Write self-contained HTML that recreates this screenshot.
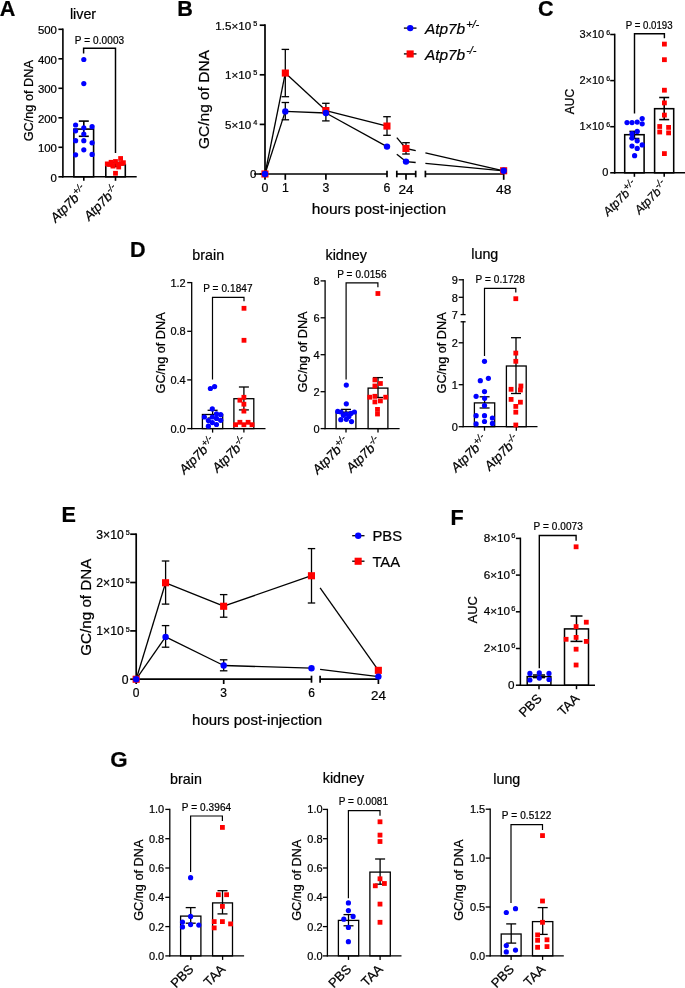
<!DOCTYPE html>
<html><head><meta charset="utf-8"><title>Figure</title>
<style>
html,body{margin:0;padding:0;background:#fff;}
body{width:685px;height:988px;overflow:hidden;font-family:"Liberation Sans",sans-serif;}
svg{display:block;font-family:"Liberation Sans",sans-serif;opacity:0.999;will-change:transform;}
text{fill:#000;stroke:#000;stroke-width:0.22px;}
</style></head>
<body>
<svg width="685" height="988" viewBox="0 0 685 988">
<rect width="685" height="988" fill="#fff"/>
<text x="-0.2" y="15.8" font-size="21.6" text-anchor="start" font-weight="bold" font-style="normal" >A</text>
<text x="177.2" y="15.9" font-size="21.6" text-anchor="start" font-weight="bold" font-style="normal" >B</text>
<text x="537.9" y="15.8" font-size="21.6" text-anchor="start" font-weight="bold" font-style="normal" >C</text>
<text x="129.9" y="257.0" font-size="21.6" text-anchor="start" font-weight="bold" font-style="normal" >D</text>
<text x="61.6" y="522.0" font-size="21.6" text-anchor="start" font-weight="bold" font-style="normal" >E</text>
<text x="450.4" y="524.8" font-size="21.6" text-anchor="start" font-weight="bold" font-style="normal" >F</text>
<text x="110.3" y="766.8" font-size="22.3" text-anchor="start" font-weight="bold" font-style="normal" >G</text>
<rect x="73.9" y="129.1" width="19.7" height="47.7" fill="#fff" stroke="#000" stroke-width="1.6"/>
<rect x="105.8" y="164.6" width="19.5" height="12.2" fill="#fff" stroke="#000" stroke-width="1.6"/>
<line x1="83.8" y1="121.1" x2="83.8" y2="136.3" stroke="#000" stroke-width="1.6" stroke-linecap="butt"/>
<line x1="78.8" y1="121.1" x2="88.8" y2="121.1" stroke="#000" stroke-width="1.6" stroke-linecap="butt"/>
<line x1="78.8" y1="136.3" x2="88.8" y2="136.3" stroke="#000" stroke-width="1.6" stroke-linecap="butt"/>
<line x1="115.5" y1="162.5" x2="115.5" y2="166.5" stroke="#000" stroke-width="1.6" stroke-linecap="butt"/>
<line x1="110.5" y1="162.5" x2="120.5" y2="162.5" stroke="#000" stroke-width="1.6" stroke-linecap="butt"/>
<line x1="110.5" y1="166.5" x2="120.5" y2="166.5" stroke="#000" stroke-width="1.6" stroke-linecap="butt"/>
<line x1="62.9" y1="28.5" x2="62.9" y2="177.6" stroke="#000" stroke-width="1.6" stroke-linecap="butt"/>
<line x1="62.1" y1="176.8" x2="136.7" y2="176.8" stroke="#000" stroke-width="1.6" stroke-linecap="butt"/>
<line x1="58.4" y1="29.3" x2="62.9" y2="29.3" stroke="#000" stroke-width="1.6" stroke-linecap="butt"/>
<text x="56.9" y="34.3" font-size="11.4" text-anchor="end" font-weight="normal" font-style="normal" >500</text>
<line x1="58.4" y1="58.8" x2="62.9" y2="58.8" stroke="#000" stroke-width="1.6" stroke-linecap="butt"/>
<text x="56.9" y="63.8" font-size="11.4" text-anchor="end" font-weight="normal" font-style="normal" >400</text>
<line x1="58.4" y1="88.3" x2="62.9" y2="88.3" stroke="#000" stroke-width="1.6" stroke-linecap="butt"/>
<text x="56.9" y="93.3" font-size="11.4" text-anchor="end" font-weight="normal" font-style="normal" >300</text>
<line x1="58.4" y1="117.8" x2="62.9" y2="117.8" stroke="#000" stroke-width="1.6" stroke-linecap="butt"/>
<text x="56.9" y="122.8" font-size="11.4" text-anchor="end" font-weight="normal" font-style="normal" >200</text>
<line x1="58.4" y1="147.3" x2="62.9" y2="147.3" stroke="#000" stroke-width="1.6" stroke-linecap="butt"/>
<text x="56.9" y="152.3" font-size="11.4" text-anchor="end" font-weight="normal" font-style="normal" >100</text>
<line x1="58.4" y1="176.8" x2="62.9" y2="176.8" stroke="#000" stroke-width="1.6" stroke-linecap="butt"/>
<text x="56.9" y="181.8" font-size="11.4" text-anchor="end" font-weight="normal" font-style="normal" >0</text>
<line x1="83.8" y1="176.8" x2="83.8" y2="180.8" stroke="#000" stroke-width="1.6" stroke-linecap="butt"/>
<line x1="115.5" y1="176.8" x2="115.5" y2="180.8" stroke="#000" stroke-width="1.6" stroke-linecap="butt"/>
<polyline points="83.6,53.6 83.6,48.2 115.5,48.2 115.5,152.9" fill="none" stroke="#000" stroke-width="1.47"/>
<text x="99.5" y="44.1" font-size="10.0" text-anchor="middle" font-weight="normal" font-style="normal" letter-spacing="0.1">P = 0.0003</text>
<text transform="translate(32.5,100.7) rotate(-90)" font-size="12.7" text-anchor="middle" font-style="normal">GC/ng of DNA</text>
<circle cx="83.8" cy="59.5" r="2.6" fill="#0000ff"/>
<circle cx="83.8" cy="83.6" r="2.6" fill="#0000ff"/>
<circle cx="75.6" cy="125.0" r="2.6" fill="#0000ff"/>
<circle cx="92.1" cy="126.7" r="2.6" fill="#0000ff"/>
<circle cx="83.8" cy="127.8" r="2.6" fill="#0000ff"/>
<circle cx="75.6" cy="130.8" r="2.6" fill="#0000ff"/>
<circle cx="83.8" cy="134.1" r="2.6" fill="#0000ff"/>
<circle cx="75.6" cy="140.7" r="2.6" fill="#0000ff"/>
<circle cx="83.8" cy="140.7" r="2.6" fill="#0000ff"/>
<circle cx="92.1" cy="142.8" r="2.6" fill="#0000ff"/>
<circle cx="83.8" cy="149.8" r="2.6" fill="#0000ff"/>
<circle cx="75.6" cy="154.8" r="2.6" fill="#0000ff"/>
<circle cx="92.1" cy="154.4" r="2.6" fill="#0000ff"/>
<rect x="104.9" y="161.5" width="4.8" height="4.8" fill="#ff0000"/>
<rect x="108.7" y="159.9" width="4.8" height="4.8" fill="#ff0000"/>
<rect x="110.6" y="163.7" width="4.8" height="4.8" fill="#ff0000"/>
<rect x="113.1" y="170.9" width="4.8" height="4.8" fill="#ff0000"/>
<rect x="115.3" y="161.8" width="4.8" height="4.8" fill="#ff0000"/>
<rect x="118.2" y="156.1" width="4.8" height="4.8" fill="#ff0000"/>
<rect x="121.0" y="160.3" width="4.8" height="4.8" fill="#ff0000"/>
<rect x="116.3" y="164.6" width="4.8" height="4.8" fill="#ff0000"/>
<rect x="113.1" y="159.1" width="4.8" height="4.8" fill="#ff0000"/>
<rect x="107.1" y="162.1" width="4.8" height="4.8" fill="#ff0000"/>
<rect x="119.1" y="161.1" width="4.8" height="4.8" fill="#ff0000"/>
<text transform="translate(87.7,190.9) rotate(-45)" font-size="13" text-anchor="end" font-style="italic">Atp7b<tspan font-size="9.5" dy="-5.2">+/-</tspan></text>
<text transform="translate(119.5,190.9) rotate(-45)" font-size="13" text-anchor="end" font-style="italic">Atp7b<tspan font-size="9.5" dy="-5.2">-/-</tspan></text>
<text x="83.0" y="18.6" font-size="14.3" text-anchor="middle" font-weight="normal" font-style="normal" >liver</text>
<rect x="624.7" y="134.7" width="19.4" height="38.1" fill="#fff" stroke="#000" stroke-width="1.55"/>
<rect x="654.6" y="108.7" width="19.1" height="64.1" fill="#fff" stroke="#000" stroke-width="1.55"/>
<line x1="634.4" y1="131.4" x2="634.4" y2="138.5" stroke="#000" stroke-width="1.55" stroke-linecap="butt"/>
<line x1="629.4" y1="131.4" x2="639.4" y2="131.4" stroke="#000" stroke-width="1.55" stroke-linecap="butt"/>
<line x1="629.4" y1="138.5" x2="639.4" y2="138.5" stroke="#000" stroke-width="1.55" stroke-linecap="butt"/>
<line x1="664.2" y1="97.5" x2="664.2" y2="119.6" stroke="#000" stroke-width="1.55" stroke-linecap="butt"/>
<line x1="659.2" y1="97.5" x2="669.2" y2="97.5" stroke="#000" stroke-width="1.55" stroke-linecap="butt"/>
<line x1="659.2" y1="119.6" x2="669.2" y2="119.6" stroke="#000" stroke-width="1.55" stroke-linecap="butt"/>
<line x1="614.7" y1="33.7" x2="614.7" y2="173.6" stroke="#000" stroke-width="1.55" stroke-linecap="butt"/>
<line x1="613.9" y1="172.8" x2="685.0" y2="172.8" stroke="#000" stroke-width="1.55" stroke-linecap="butt"/>
<line x1="610.2" y1="34.5" x2="614.7" y2="34.5" stroke="#000" stroke-width="1.55" stroke-linecap="butt"/>
<text x="610.2" y="38.1" font-size="11" text-anchor="end" font-weight="normal" font-style="normal" >3×10<tspan font-size="6.9" dx="2.2" dy="-3.2">6</tspan></text>
<line x1="610.2" y1="80.6" x2="614.7" y2="80.6" stroke="#000" stroke-width="1.55" stroke-linecap="butt"/>
<text x="610.2" y="84.2" font-size="11" text-anchor="end" font-weight="normal" font-style="normal" >2×10<tspan font-size="6.9" dx="2.2" dy="-3.2">6</tspan></text>
<line x1="610.2" y1="126.7" x2="614.7" y2="126.7" stroke="#000" stroke-width="1.55" stroke-linecap="butt"/>
<text x="610.2" y="130.3" font-size="11" text-anchor="end" font-weight="normal" font-style="normal" >1×10<tspan font-size="6.9" dx="2.2" dy="-3.2">6</tspan></text>
<line x1="610.2" y1="172.8" x2="614.7" y2="172.8" stroke="#000" stroke-width="1.55" stroke-linecap="butt"/>
<text x="608.4" y="176.4" font-size="11" text-anchor="end" font-weight="normal" font-style="normal" >0</text>
<line x1="634.4" y1="172.8" x2="634.4" y2="176.8" stroke="#000" stroke-width="1.55" stroke-linecap="butt"/>
<line x1="664.2" y1="172.8" x2="664.2" y2="176.8" stroke="#000" stroke-width="1.55" stroke-linecap="butt"/>
<polyline points="634.5,113.6 634.5,33.8 664.4,33.8 664.4,38.3" fill="none" stroke="#000" stroke-width="1.43"/>
<text x="649.2" y="29.3" font-size="10.2" text-anchor="middle" font-weight="normal" font-style="normal" textLength="46.8" lengthAdjust="spacingAndGlyphs">P = 0.0193</text>
<text transform="translate(573.5,101.5) rotate(-90)" font-size="12" text-anchor="middle" font-style="normal">AUC</text>
<circle cx="627.0" cy="122.6" r="2.6" fill="#0000ff"/>
<circle cx="632.0" cy="122.6" r="2.6" fill="#0000ff"/>
<circle cx="637.2" cy="122.1" r="2.6" fill="#0000ff"/>
<circle cx="642.2" cy="118.5" r="2.6" fill="#0000ff"/>
<circle cx="642.2" cy="123.8" r="2.6" fill="#0000ff"/>
<circle cx="637.2" cy="131.4" r="2.6" fill="#0000ff"/>
<circle cx="632.0" cy="133.7" r="2.6" fill="#0000ff"/>
<circle cx="632.0" cy="138.1" r="2.6" fill="#0000ff"/>
<circle cx="637.2" cy="140.8" r="2.6" fill="#0000ff"/>
<circle cx="642.2" cy="144.9" r="2.6" fill="#0000ff"/>
<circle cx="632.0" cy="146.1" r="2.6" fill="#0000ff"/>
<circle cx="637.2" cy="148.4" r="2.6" fill="#0000ff"/>
<circle cx="634.6" cy="155.7" r="2.6" fill="#0000ff"/>
<rect x="662.0" y="41.7" width="4.8" height="4.8" fill="#ff0000"/>
<rect x="662.0" y="57.3" width="4.8" height="4.8" fill="#ff0000"/>
<rect x="662.0" y="87.8" width="4.8" height="4.8" fill="#ff0000"/>
<rect x="662.0" y="100.5" width="4.8" height="4.8" fill="#ff0000"/>
<rect x="662.0" y="112.7" width="4.8" height="4.8" fill="#ff0000"/>
<rect x="657.3" y="124.1" width="4.8" height="4.8" fill="#ff0000"/>
<rect x="666.2" y="125.0" width="4.8" height="4.8" fill="#ff0000"/>
<rect x="657.3" y="129.6" width="4.8" height="4.8" fill="#ff0000"/>
<rect x="666.2" y="130.5" width="4.8" height="4.8" fill="#ff0000"/>
<rect x="662.0" y="151.2" width="4.8" height="4.8" fill="#ff0000"/>
<text transform="translate(638.3,186.3) rotate(-45)" font-size="12" text-anchor="end" font-style="italic">Atp7b<tspan font-size="9.5" dy="-5.2">+/-</tspan></text>
<text transform="translate(668.1,186.3) rotate(-45)" font-size="12" text-anchor="end" font-style="italic">Atp7b<tspan font-size="9.5" dy="-5.2">-/-</tspan></text>
<rect x="202.4" y="414.5" width="20.3" height="14.1" fill="#fff" stroke="#000" stroke-width="1.3"/>
<rect x="233.9" y="398.7" width="19.9" height="29.9" fill="#fff" stroke="#000" stroke-width="1.3"/>
<line x1="212.6" y1="410.3" x2="212.6" y2="418.0" stroke="#000" stroke-width="1.3" stroke-linecap="butt"/>
<line x1="207.6" y1="410.3" x2="217.6" y2="410.3" stroke="#000" stroke-width="1.3" stroke-linecap="butt"/>
<line x1="207.6" y1="418.0" x2="217.6" y2="418.0" stroke="#000" stroke-width="1.3" stroke-linecap="butt"/>
<line x1="243.9" y1="387.0" x2="243.9" y2="409.9" stroke="#000" stroke-width="1.3" stroke-linecap="butt"/>
<line x1="238.9" y1="387.0" x2="248.9" y2="387.0" stroke="#000" stroke-width="1.3" stroke-linecap="butt"/>
<line x1="238.9" y1="409.9" x2="248.9" y2="409.9" stroke="#000" stroke-width="1.3" stroke-linecap="butt"/>
<line x1="191.7" y1="282.0" x2="191.7" y2="429.2" stroke="#000" stroke-width="1.3" stroke-linecap="butt"/>
<line x1="191.0" y1="428.6" x2="265.5" y2="428.6" stroke="#000" stroke-width="1.3" stroke-linecap="butt"/>
<line x1="187.2" y1="282.6" x2="191.7" y2="282.6" stroke="#000" stroke-width="1.3" stroke-linecap="butt"/>
<text x="185.7" y="286.6" font-size="11" text-anchor="end" font-weight="normal" font-style="normal" >1.2</text>
<line x1="187.2" y1="331.3" x2="191.7" y2="331.3" stroke="#000" stroke-width="1.3" stroke-linecap="butt"/>
<text x="185.7" y="335.3" font-size="11" text-anchor="end" font-weight="normal" font-style="normal" >0.8</text>
<line x1="187.2" y1="379.9" x2="191.7" y2="379.9" stroke="#000" stroke-width="1.3" stroke-linecap="butt"/>
<text x="185.7" y="383.9" font-size="11" text-anchor="end" font-weight="normal" font-style="normal" >0.4</text>
<line x1="187.2" y1="428.6" x2="191.7" y2="428.6" stroke="#000" stroke-width="1.3" stroke-linecap="butt"/>
<text x="185.7" y="432.6" font-size="11" text-anchor="end" font-weight="normal" font-style="normal" >0.0</text>
<line x1="212.6" y1="428.6" x2="212.6" y2="432.6" stroke="#000" stroke-width="1.3" stroke-linecap="butt"/>
<line x1="243.9" y1="428.6" x2="243.9" y2="432.6" stroke="#000" stroke-width="1.3" stroke-linecap="butt"/>
<polyline points="212.5,379.5 212.5,297.3 244.0,297.3 244.0,301.2" fill="none" stroke="#000" stroke-width="1.20"/>
<text x="227.9" y="292.3" font-size="10.0" text-anchor="middle" font-weight="normal" font-style="normal" letter-spacing="0.1">P = 0.1847</text>
<text transform="translate(165.0,352.9) rotate(-90)" font-size="12.7" text-anchor="middle" font-style="normal">GC/ng of DNA</text>
<circle cx="210.4" cy="388.5" r="2.6" fill="#0000ff"/>
<circle cx="214.6" cy="386.6" r="2.6" fill="#0000ff"/>
<circle cx="212.3" cy="408.9" r="2.6" fill="#0000ff"/>
<circle cx="216.5" cy="413.8" r="2.6" fill="#0000ff"/>
<circle cx="220.7" cy="414.7" r="2.6" fill="#0000ff"/>
<circle cx="204.4" cy="417.0" r="2.6" fill="#0000ff"/>
<circle cx="212.3" cy="417.0" r="2.6" fill="#0000ff"/>
<circle cx="216.5" cy="418.4" r="2.6" fill="#0000ff"/>
<circle cx="208.4" cy="420.6" r="2.6" fill="#0000ff"/>
<circle cx="220.7" cy="420.3" r="2.6" fill="#0000ff"/>
<circle cx="212.3" cy="422.6" r="2.6" fill="#0000ff"/>
<circle cx="216.5" cy="424.5" r="2.6" fill="#0000ff"/>
<circle cx="208.4" cy="426.2" r="2.6" fill="#0000ff"/>
<rect x="241.6" y="305.9" width="4.8" height="4.8" fill="#ff0000"/>
<rect x="241.6" y="337.9" width="4.8" height="4.8" fill="#ff0000"/>
<rect x="241.5" y="394.9" width="4.8" height="4.8" fill="#ff0000"/>
<rect x="237.5" y="397.8" width="4.8" height="4.8" fill="#ff0000"/>
<rect x="241.5" y="401.8" width="4.8" height="4.8" fill="#ff0000"/>
<rect x="241.5" y="408.7" width="4.8" height="4.8" fill="#ff0000"/>
<rect x="233.2" y="422.3" width="4.8" height="4.8" fill="#ff0000"/>
<rect x="237.5" y="419.9" width="4.8" height="4.8" fill="#ff0000"/>
<rect x="241.5" y="422.3" width="4.8" height="4.8" fill="#ff0000"/>
<rect x="245.7" y="419.9" width="4.8" height="4.8" fill="#ff0000"/>
<rect x="249.6" y="422.3" width="4.8" height="4.8" fill="#ff0000"/>
<text transform="translate(216.5,442.7) rotate(-45)" font-size="13" text-anchor="end" font-style="italic">Atp7b<tspan font-size="9.5" dy="-5.2">+/-</tspan></text>
<text transform="translate(247.8,442.7) rotate(-45)" font-size="13" text-anchor="end" font-style="italic">Atp7b<tspan font-size="9.5" dy="-5.2">-/-</tspan></text>
<text x="208.2" y="260.4" font-size="14.3" text-anchor="middle" font-weight="normal" font-style="normal" >brain</text>
<rect x="336.1" y="412.2" width="19.8" height="16.4" fill="#fff" stroke="#000" stroke-width="1.3"/>
<rect x="368.1" y="388.1" width="19.8" height="40.5" fill="#fff" stroke="#000" stroke-width="1.3"/>
<line x1="346.0" y1="409.4" x2="346.0" y2="415.0" stroke="#000" stroke-width="1.3" stroke-linecap="butt"/>
<line x1="341.0" y1="409.4" x2="351.0" y2="409.4" stroke="#000" stroke-width="1.3" stroke-linecap="butt"/>
<line x1="341.0" y1="415.0" x2="351.0" y2="415.0" stroke="#000" stroke-width="1.3" stroke-linecap="butt"/>
<line x1="378.0" y1="377.6" x2="378.0" y2="397.5" stroke="#000" stroke-width="1.3" stroke-linecap="butt"/>
<line x1="373.0" y1="377.6" x2="383.0" y2="377.6" stroke="#000" stroke-width="1.3" stroke-linecap="butt"/>
<line x1="373.0" y1="397.5" x2="383.0" y2="397.5" stroke="#000" stroke-width="1.3" stroke-linecap="butt"/>
<line x1="325.1" y1="280.2" x2="325.1" y2="429.2" stroke="#000" stroke-width="1.3" stroke-linecap="butt"/>
<line x1="324.5" y1="428.6" x2="399.6" y2="428.6" stroke="#000" stroke-width="1.3" stroke-linecap="butt"/>
<line x1="320.6" y1="280.9" x2="325.1" y2="280.9" stroke="#000" stroke-width="1.3" stroke-linecap="butt"/>
<text x="319.5" y="285.3" font-size="11" text-anchor="end" font-weight="normal" font-style="normal" >8</text>
<line x1="320.6" y1="317.8" x2="325.1" y2="317.8" stroke="#000" stroke-width="1.3" stroke-linecap="butt"/>
<text x="319.5" y="322.2" font-size="11" text-anchor="end" font-weight="normal" font-style="normal" >6</text>
<line x1="320.6" y1="354.7" x2="325.1" y2="354.7" stroke="#000" stroke-width="1.3" stroke-linecap="butt"/>
<text x="319.5" y="359.1" font-size="11" text-anchor="end" font-weight="normal" font-style="normal" >4</text>
<line x1="320.6" y1="391.7" x2="325.1" y2="391.7" stroke="#000" stroke-width="1.3" stroke-linecap="butt"/>
<text x="319.5" y="396.1" font-size="11" text-anchor="end" font-weight="normal" font-style="normal" >2</text>
<line x1="320.6" y1="428.6" x2="325.1" y2="428.6" stroke="#000" stroke-width="1.3" stroke-linecap="butt"/>
<text x="319.5" y="433.0" font-size="11" text-anchor="end" font-weight="normal" font-style="normal" >0</text>
<line x1="346.0" y1="428.6" x2="346.0" y2="432.6" stroke="#000" stroke-width="1.3" stroke-linecap="butt"/>
<line x1="378.0" y1="428.6" x2="378.0" y2="432.6" stroke="#000" stroke-width="1.3" stroke-linecap="butt"/>
<polyline points="346.1,379.5 346.1,282.8 377.9,282.8 377.9,287.2" fill="none" stroke="#000" stroke-width="1.20"/>
<text x="361.9" y="277.8" font-size="10.0" text-anchor="middle" font-weight="normal" font-style="normal" letter-spacing="0.1">P = 0.0156</text>
<text transform="translate(307.4,352.0) rotate(-90)" font-size="12.7" text-anchor="middle" font-style="normal">GC/ng of DNA</text>
<circle cx="346.3" cy="385.1" r="2.6" fill="#0000ff"/>
<circle cx="346.3" cy="403.8" r="2.6" fill="#0000ff"/>
<circle cx="337.7" cy="411.4" r="2.6" fill="#0000ff"/>
<circle cx="341.0" cy="412.0" r="2.6" fill="#0000ff"/>
<circle cx="354.4" cy="412.0" r="2.6" fill="#0000ff"/>
<circle cx="350.9" cy="413.4" r="2.6" fill="#0000ff"/>
<circle cx="346.3" cy="414.0" r="2.6" fill="#0000ff"/>
<circle cx="343.4" cy="415.3" r="2.6" fill="#0000ff"/>
<circle cx="348.9" cy="416.6" r="2.6" fill="#0000ff"/>
<circle cx="340.8" cy="419.7" r="2.6" fill="#0000ff"/>
<circle cx="346.3" cy="419.3" r="2.6" fill="#0000ff"/>
<circle cx="351.5" cy="421.6" r="2.6" fill="#0000ff"/>
<rect x="375.5" y="291.1" width="4.8" height="4.8" fill="#ff0000"/>
<rect x="372.5" y="377.5" width="4.8" height="4.8" fill="#ff0000"/>
<rect x="378.0" y="381.1" width="4.8" height="4.8" fill="#ff0000"/>
<rect x="372.5" y="383.6" width="4.8" height="4.8" fill="#ff0000"/>
<rect x="367.3" y="394.8" width="4.8" height="4.8" fill="#ff0000"/>
<rect x="372.5" y="393.9" width="4.8" height="4.8" fill="#ff0000"/>
<rect x="383.3" y="394.8" width="4.8" height="4.8" fill="#ff0000"/>
<rect x="378.0" y="398.5" width="4.8" height="4.8" fill="#ff0000"/>
<rect x="372.5" y="399.5" width="4.8" height="4.8" fill="#ff0000"/>
<rect x="375.1" y="407.0" width="4.8" height="4.8" fill="#ff0000"/>
<rect x="375.1" y="411.6" width="4.8" height="4.8" fill="#ff0000"/>
<text transform="translate(349.9,442.7) rotate(-45)" font-size="13" text-anchor="end" font-style="italic">Atp7b<tspan font-size="9.5" dy="-5.2">+/-</tspan></text>
<text transform="translate(381.9,442.7) rotate(-45)" font-size="13" text-anchor="end" font-style="italic">Atp7b<tspan font-size="9.5" dy="-5.2">-/-</tspan></text>
<text x="346.2" y="259.9" font-size="14.3" text-anchor="middle" font-weight="normal" font-style="normal" >kidney</text>
<rect x="474.4" y="402.9" width="20.3" height="23.8" fill="#fff" stroke="#000" stroke-width="1.3"/>
<rect x="506.4" y="366.0" width="19.8" height="60.7" fill="#fff" stroke="#000" stroke-width="1.3"/>
<line x1="484.6" y1="396.8" x2="484.6" y2="408.0" stroke="#000" stroke-width="1.3" stroke-linecap="butt"/>
<line x1="479.6" y1="396.8" x2="489.6" y2="396.8" stroke="#000" stroke-width="1.3" stroke-linecap="butt"/>
<line x1="479.6" y1="408.0" x2="489.6" y2="408.0" stroke="#000" stroke-width="1.3" stroke-linecap="butt"/>
<line x1="516.0" y1="337.7" x2="516.0" y2="393.5" stroke="#000" stroke-width="1.3" stroke-linecap="butt"/>
<line x1="511.0" y1="337.7" x2="521.0" y2="337.7" stroke="#000" stroke-width="1.3" stroke-linecap="butt"/>
<line x1="511.0" y1="393.5" x2="521.0" y2="393.5" stroke="#000" stroke-width="1.3" stroke-linecap="butt"/>
<line x1="463.2" y1="321.2" x2="463.2" y2="427.3" stroke="#000" stroke-width="1.3" stroke-linecap="butt"/>
<line x1="462.6" y1="426.7" x2="537.5" y2="426.7" stroke="#000" stroke-width="1.3" stroke-linecap="butt"/>
<line x1="458.7" y1="342.8" x2="463.2" y2="342.8" stroke="#000" stroke-width="1.3" stroke-linecap="butt"/>
<text x="457.9" y="347.2" font-size="11" text-anchor="end" font-weight="normal" font-style="normal" >2</text>
<line x1="458.7" y1="384.7" x2="463.2" y2="384.7" stroke="#000" stroke-width="1.3" stroke-linecap="butt"/>
<text x="457.9" y="389.1" font-size="11" text-anchor="end" font-weight="normal" font-style="normal" >1</text>
<line x1="458.7" y1="426.7" x2="463.2" y2="426.7" stroke="#000" stroke-width="1.3" stroke-linecap="butt"/>
<text x="457.9" y="431.1" font-size="11" text-anchor="end" font-weight="normal" font-style="normal" >0</text>
<line x1="484.5" y1="426.7" x2="484.5" y2="430.7" stroke="#000" stroke-width="1.3" stroke-linecap="butt"/>
<line x1="516.3" y1="426.7" x2="516.3" y2="430.7" stroke="#000" stroke-width="1.3" stroke-linecap="butt"/>
<polyline points="484.5,356.1 484.5,288.4 515.8,288.4 515.8,292.6" fill="none" stroke="#000" stroke-width="1.20"/>
<text x="500.2" y="283.0" font-size="10.0" text-anchor="middle" font-weight="normal" font-style="normal" letter-spacing="0.1">P = 0.1728</text>
<text transform="translate(446.2,352.9) rotate(-90)" font-size="12.7" text-anchor="middle" font-style="normal">GC/ng of DNA</text>
<circle cx="484.5" cy="361.3" r="2.6" fill="#0000ff"/>
<circle cx="480.3" cy="380.7" r="2.6" fill="#0000ff"/>
<circle cx="488.4" cy="378.3" r="2.6" fill="#0000ff"/>
<circle cx="484.5" cy="391.6" r="2.6" fill="#0000ff"/>
<circle cx="476.1" cy="396.3" r="2.6" fill="#0000ff"/>
<circle cx="484.6" cy="398.3" r="2.6" fill="#0000ff"/>
<circle cx="484.5" cy="405.5" r="2.6" fill="#0000ff"/>
<circle cx="476.1" cy="415.7" r="2.6" fill="#0000ff"/>
<circle cx="484.5" cy="415.7" r="2.6" fill="#0000ff"/>
<circle cx="492.4" cy="418.0" r="2.6" fill="#0000ff"/>
<circle cx="476.1" cy="423.9" r="2.6" fill="#0000ff"/>
<circle cx="484.5" cy="421.5" r="2.6" fill="#0000ff"/>
<circle cx="492.4" cy="423.4" r="2.6" fill="#0000ff"/>
<rect x="513.4" y="296.3" width="4.8" height="4.8" fill="#ff0000"/>
<rect x="513.4" y="350.7" width="4.8" height="4.8" fill="#ff0000"/>
<rect x="513.4" y="358.9" width="4.8" height="4.8" fill="#ff0000"/>
<rect x="518.5" y="383.6" width="4.8" height="4.8" fill="#ff0000"/>
<rect x="508.7" y="386.9" width="4.8" height="4.8" fill="#ff0000"/>
<rect x="518.0" y="387.6" width="4.8" height="4.8" fill="#ff0000"/>
<rect x="508.7" y="397.0" width="4.8" height="4.8" fill="#ff0000"/>
<rect x="518.0" y="399.8" width="4.8" height="4.8" fill="#ff0000"/>
<rect x="513.4" y="404.0" width="4.8" height="4.8" fill="#ff0000"/>
<rect x="513.4" y="409.8" width="4.8" height="4.8" fill="#ff0000"/>
<rect x="513.4" y="422.6" width="4.8" height="4.8" fill="#ff0000"/>
<text transform="translate(488.4,440.8) rotate(-45)" font-size="13" text-anchor="end" font-style="italic">Atp7b<tspan font-size="9.5" dy="-5.2">+/-</tspan></text>
<text transform="translate(520.2,440.8) rotate(-45)" font-size="13" text-anchor="end" font-style="italic">Atp7b<tspan font-size="9.5" dy="-5.2">-/-</tspan></text>
<text x="484.8" y="259.2" font-size="14.3" text-anchor="middle" font-weight="normal" font-style="normal" >lung</text>
<line x1="463.2" y1="279.1" x2="463.2" y2="314.6" stroke="#000" stroke-width="1.3" stroke-linecap="butt"/>
<line x1="458.7" y1="279.8" x2="463.2" y2="279.8" stroke="#000" stroke-width="1.3" stroke-linecap="butt"/>
<text x="457.9" y="284.2" font-size="11" text-anchor="end" font-weight="normal" font-style="normal" >9</text>
<line x1="458.7" y1="297.3" x2="463.2" y2="297.3" stroke="#000" stroke-width="1.3" stroke-linecap="butt"/>
<text x="457.9" y="301.7" font-size="11" text-anchor="end" font-weight="normal" font-style="normal" >8</text>
<line x1="460.6" y1="314.6" x2="465.6" y2="314.6" stroke="#000" stroke-width="1.3" stroke-linecap="butt"/>
<text x="457.9" y="319.0" font-size="11" text-anchor="end" font-weight="normal" font-style="normal" >7</text>
<line x1="460.6" y1="321.8" x2="465.6" y2="321.8" stroke="#000" stroke-width="1.3" stroke-linecap="butt"/>
<rect x="527.2" y="676.6" width="23.7" height="8.6" fill="#fff" stroke="#000" stroke-width="1.5"/>
<rect x="564.5" y="628.9" width="24.0" height="56.3" fill="#fff" stroke="#000" stroke-width="1.5"/>
<line x1="539.0" y1="675.0" x2="539.0" y2="677.6" stroke="#000" stroke-width="1.5" stroke-linecap="butt"/>
<line x1="533.0" y1="675.0" x2="545.0" y2="675.0" stroke="#000" stroke-width="1.5" stroke-linecap="butt"/>
<line x1="533.0" y1="677.6" x2="545.0" y2="677.6" stroke="#000" stroke-width="1.5" stroke-linecap="butt"/>
<line x1="576.5" y1="616.0" x2="576.5" y2="641.4" stroke="#000" stroke-width="1.5" stroke-linecap="butt"/>
<line x1="570.5" y1="616.0" x2="582.5" y2="616.0" stroke="#000" stroke-width="1.5" stroke-linecap="butt"/>
<line x1="570.5" y1="641.4" x2="582.5" y2="641.4" stroke="#000" stroke-width="1.5" stroke-linecap="butt"/>
<line x1="520.4" y1="537.6" x2="520.4" y2="686.0" stroke="#000" stroke-width="1.5" stroke-linecap="butt"/>
<line x1="519.6" y1="685.2" x2="595.0" y2="685.2" stroke="#000" stroke-width="1.5" stroke-linecap="butt"/>
<line x1="515.9" y1="538.4" x2="520.4" y2="538.4" stroke="#000" stroke-width="1.5" stroke-linecap="butt"/>
<text x="515.3" y="541.8" font-size="11.7" text-anchor="end" font-weight="normal" font-style="normal" >8×10<tspan font-size="7.5" dx="1.0" dy="-4.2">6</tspan></text>
<line x1="515.9" y1="575.1" x2="520.4" y2="575.1" stroke="#000" stroke-width="1.5" stroke-linecap="butt"/>
<text x="515.3" y="578.5" font-size="11.7" text-anchor="end" font-weight="normal" font-style="normal" >6×10<tspan font-size="7.5" dx="1.0" dy="-4.2">6</tspan></text>
<line x1="515.9" y1="611.8" x2="520.4" y2="611.8" stroke="#000" stroke-width="1.5" stroke-linecap="butt"/>
<text x="515.3" y="615.2" font-size="11.7" text-anchor="end" font-weight="normal" font-style="normal" >4×10<tspan font-size="7.5" dx="1.0" dy="-4.2">6</tspan></text>
<line x1="515.9" y1="648.5" x2="520.4" y2="648.5" stroke="#000" stroke-width="1.5" stroke-linecap="butt"/>
<text x="515.3" y="651.9" font-size="11.7" text-anchor="end" font-weight="normal" font-style="normal" >2×10<tspan font-size="7.5" dx="1.0" dy="-4.2">6</tspan></text>
<line x1="515.9" y1="685.2" x2="520.4" y2="685.2" stroke="#000" stroke-width="1.5" stroke-linecap="butt"/>
<text x="514.4" y="688.6" font-size="11.7" text-anchor="end" font-weight="normal" font-style="normal" >0</text>
<line x1="539.0" y1="685.2" x2="539.0" y2="689.2" stroke="#000" stroke-width="1.5" stroke-linecap="butt"/>
<line x1="576.5" y1="685.2" x2="576.5" y2="689.2" stroke="#000" stroke-width="1.5" stroke-linecap="butt"/>
<polyline points="539.3,668.2 539.3,535.5 576.1,535.5 576.1,540.7" fill="none" stroke="#000" stroke-width="1.38"/>
<text x="558.2" y="530.1" font-size="10.0" text-anchor="middle" font-weight="normal" font-style="normal" letter-spacing="0.1">P = 0.0073</text>
<text transform="translate(476.9,609.7) rotate(-90)" font-size="12.9" text-anchor="middle" font-style="normal">AUC</text>
<circle cx="529.9" cy="673.4" r="2.6" fill="#0000ff"/>
<circle cx="539.3" cy="672.9" r="2.6" fill="#0000ff"/>
<circle cx="549.0" cy="673.4" r="2.6" fill="#0000ff"/>
<circle cx="529.9" cy="680.0" r="2.6" fill="#0000ff"/>
<circle cx="539.3" cy="678.1" r="2.6" fill="#0000ff"/>
<circle cx="549.0" cy="679.5" r="2.6" fill="#0000ff"/>
<rect x="573.7" y="544.4" width="4.8" height="4.8" fill="#ff0000"/>
<rect x="583.9" y="619.8" width="4.8" height="4.8" fill="#ff0000"/>
<rect x="573.7" y="624.2" width="4.8" height="4.8" fill="#ff0000"/>
<rect x="563.7" y="636.9" width="4.8" height="4.8" fill="#ff0000"/>
<rect x="573.7" y="635.0" width="4.8" height="4.8" fill="#ff0000"/>
<rect x="583.9" y="639.0" width="4.8" height="4.8" fill="#ff0000"/>
<rect x="573.7" y="646.8" width="4.8" height="4.8" fill="#ff0000"/>
<rect x="573.7" y="662.6" width="4.8" height="4.8" fill="#ff0000"/>
<text transform="translate(542.6,699.4) rotate(-45)" font-size="13" text-anchor="end" font-style="normal">PBS</text>
<text transform="translate(580.1,699.4) rotate(-45)" font-size="13" text-anchor="end" font-style="normal">TAA</text>
<g transform="translate(0,0.4)">
<rect x="180.6" y="915.7" width="20.3" height="39.8" fill="#fff" stroke="#000" stroke-width="1.3"/>
<rect x="212.6" y="902.5" width="19.9" height="53.0" fill="#fff" stroke="#000" stroke-width="1.3"/>
<line x1="190.7" y1="907.2" x2="190.7" y2="922.8" stroke="#000" stroke-width="1.3" stroke-linecap="butt"/>
<line x1="185.7" y1="907.2" x2="195.7" y2="907.2" stroke="#000" stroke-width="1.3" stroke-linecap="butt"/>
<line x1="185.7" y1="922.8" x2="195.7" y2="922.8" stroke="#000" stroke-width="1.3" stroke-linecap="butt"/>
<line x1="222.5" y1="890.3" x2="222.5" y2="913.5" stroke="#000" stroke-width="1.3" stroke-linecap="butt"/>
<line x1="217.5" y1="890.3" x2="227.5" y2="890.3" stroke="#000" stroke-width="1.3" stroke-linecap="butt"/>
<line x1="217.5" y1="913.5" x2="227.5" y2="913.5" stroke="#000" stroke-width="1.3" stroke-linecap="butt"/>
<line x1="169.8" y1="808.4" x2="169.8" y2="956.1" stroke="#000" stroke-width="1.3" stroke-linecap="butt"/>
<line x1="169.2" y1="955.5" x2="244.1" y2="955.5" stroke="#000" stroke-width="1.3" stroke-linecap="butt"/>
<line x1="165.3" y1="809.0" x2="169.8" y2="809.0" stroke="#000" stroke-width="1.3" stroke-linecap="butt"/>
<text x="164.2" y="813.0" font-size="11" text-anchor="end" font-weight="normal" font-style="normal" >1.0</text>
<line x1="165.3" y1="838.3" x2="169.8" y2="838.3" stroke="#000" stroke-width="1.3" stroke-linecap="butt"/>
<text x="164.2" y="842.3" font-size="11" text-anchor="end" font-weight="normal" font-style="normal" >0.8</text>
<line x1="165.3" y1="867.6" x2="169.8" y2="867.6" stroke="#000" stroke-width="1.3" stroke-linecap="butt"/>
<text x="164.2" y="871.6" font-size="11" text-anchor="end" font-weight="normal" font-style="normal" >0.6</text>
<line x1="165.3" y1="896.9" x2="169.8" y2="896.9" stroke="#000" stroke-width="1.3" stroke-linecap="butt"/>
<text x="164.2" y="900.9" font-size="11" text-anchor="end" font-weight="normal" font-style="normal" >0.4</text>
<line x1="165.3" y1="926.2" x2="169.8" y2="926.2" stroke="#000" stroke-width="1.3" stroke-linecap="butt"/>
<text x="164.2" y="930.2" font-size="11" text-anchor="end" font-weight="normal" font-style="normal" >0.2</text>
<line x1="165.3" y1="955.5" x2="169.8" y2="955.5" stroke="#000" stroke-width="1.3" stroke-linecap="butt"/>
<text x="164.2" y="959.5" font-size="11" text-anchor="end" font-weight="normal" font-style="normal" >0.0</text>
<line x1="190.8" y1="955.5" x2="190.8" y2="959.5" stroke="#000" stroke-width="1.3" stroke-linecap="butt"/>
<line x1="222.6" y1="955.5" x2="222.6" y2="959.5" stroke="#000" stroke-width="1.3" stroke-linecap="butt"/>
<polyline points="190.6,871.7 190.6,815.6 222.4,815.6 222.4,820.7" fill="none" stroke="#000" stroke-width="1.20"/>
<text x="206.5" y="810.4" font-size="10.0" text-anchor="middle" font-weight="normal" font-style="normal" letter-spacing="0.1">P = 0.3964</text>
<text transform="translate(143.0,879.8) rotate(-90)" font-size="12.7" text-anchor="middle" font-style="normal">GC/ng of DNA</text>
<circle cx="190.6" cy="877.3" r="2.6" fill="#0000ff"/>
<circle cx="190.6" cy="916.0" r="2.6" fill="#0000ff"/>
<circle cx="182.5" cy="921.6" r="2.6" fill="#0000ff"/>
<circle cx="182.5" cy="926.5" r="2.6" fill="#0000ff"/>
<circle cx="190.6" cy="924.2" r="2.6" fill="#0000ff"/>
<circle cx="198.8" cy="924.7" r="2.6" fill="#0000ff"/>
<rect x="220.0" y="824.6" width="4.8" height="4.8" fill="#ff0000"/>
<rect x="216.0" y="891.9" width="4.8" height="4.8" fill="#ff0000"/>
<rect x="224.2" y="891.9" width="4.8" height="4.8" fill="#ff0000"/>
<rect x="220.0" y="903.6" width="4.8" height="4.8" fill="#ff0000"/>
<rect x="211.8" y="918.8" width="4.8" height="4.8" fill="#ff0000"/>
<rect x="220.0" y="918.8" width="4.8" height="4.8" fill="#ff0000"/>
<rect x="228.2" y="921.1" width="4.8" height="4.8" fill="#ff0000"/>
<rect x="211.8" y="925.1" width="4.8" height="4.8" fill="#ff0000"/>
<text transform="translate(194.3,969.7) rotate(-45)" font-size="13" text-anchor="end" font-style="normal">PBS</text>
<text transform="translate(226.2,969.7) rotate(-45)" font-size="13" text-anchor="end" font-style="normal">TAA</text>
<text x="186.0" y="783.6" font-size="14.3" text-anchor="middle" font-weight="normal" font-style="normal" >brain</text>
<rect x="338.4" y="920.0" width="20.3" height="35.5" fill="#fff" stroke="#000" stroke-width="1.3"/>
<rect x="369.9" y="871.7" width="20.4" height="83.8" fill="#fff" stroke="#000" stroke-width="1.3"/>
<line x1="348.5" y1="914.2" x2="348.5" y2="925.4" stroke="#000" stroke-width="1.3" stroke-linecap="butt"/>
<line x1="343.5" y1="914.2" x2="353.5" y2="914.2" stroke="#000" stroke-width="1.3" stroke-linecap="butt"/>
<line x1="343.5" y1="925.4" x2="353.5" y2="925.4" stroke="#000" stroke-width="1.3" stroke-linecap="butt"/>
<line x1="380.1" y1="858.6" x2="380.1" y2="883.8" stroke="#000" stroke-width="1.3" stroke-linecap="butt"/>
<line x1="375.1" y1="858.6" x2="385.1" y2="858.6" stroke="#000" stroke-width="1.3" stroke-linecap="butt"/>
<line x1="375.1" y1="883.8" x2="385.1" y2="883.8" stroke="#000" stroke-width="1.3" stroke-linecap="butt"/>
<line x1="327.4" y1="808.4" x2="327.4" y2="956.1" stroke="#000" stroke-width="1.3" stroke-linecap="butt"/>
<line x1="326.8" y1="955.5" x2="401.5" y2="955.5" stroke="#000" stroke-width="1.3" stroke-linecap="butt"/>
<line x1="322.9" y1="809.0" x2="327.4" y2="809.0" stroke="#000" stroke-width="1.3" stroke-linecap="butt"/>
<text x="322.6" y="813.0" font-size="11" text-anchor="end" font-weight="normal" font-style="normal" >1.0</text>
<line x1="322.9" y1="838.3" x2="327.4" y2="838.3" stroke="#000" stroke-width="1.3" stroke-linecap="butt"/>
<text x="322.6" y="842.3" font-size="11" text-anchor="end" font-weight="normal" font-style="normal" >0.8</text>
<line x1="322.9" y1="867.6" x2="327.4" y2="867.6" stroke="#000" stroke-width="1.3" stroke-linecap="butt"/>
<text x="322.6" y="871.6" font-size="11" text-anchor="end" font-weight="normal" font-style="normal" >0.6</text>
<line x1="322.9" y1="896.9" x2="327.4" y2="896.9" stroke="#000" stroke-width="1.3" stroke-linecap="butt"/>
<text x="322.6" y="900.9" font-size="11" text-anchor="end" font-weight="normal" font-style="normal" >0.4</text>
<line x1="322.9" y1="926.2" x2="327.4" y2="926.2" stroke="#000" stroke-width="1.3" stroke-linecap="butt"/>
<text x="322.6" y="930.2" font-size="11" text-anchor="end" font-weight="normal" font-style="normal" >0.2</text>
<line x1="322.9" y1="955.5" x2="327.4" y2="955.5" stroke="#000" stroke-width="1.3" stroke-linecap="butt"/>
<text x="322.6" y="959.5" font-size="11" text-anchor="end" font-weight="normal" font-style="normal" >0.0</text>
<line x1="348.5" y1="955.5" x2="348.5" y2="959.5" stroke="#000" stroke-width="1.3" stroke-linecap="butt"/>
<line x1="380.1" y1="955.5" x2="380.1" y2="959.5" stroke="#000" stroke-width="1.3" stroke-linecap="butt"/>
<polyline points="348.4,897.8 348.4,810.2 380.0,810.2 380.0,815.4" fill="none" stroke="#000" stroke-width="1.20"/>
<text x="363.4" y="804.6" font-size="10.0" text-anchor="middle" font-weight="normal" font-style="normal" letter-spacing="0.1">P = 0.0081</text>
<text transform="translate(300.8,879.8) rotate(-90)" font-size="12.7" text-anchor="middle" font-style="normal">GC/ng of DNA</text>
<circle cx="348.4" cy="902.5" r="2.6" fill="#0000ff"/>
<circle cx="348.4" cy="910.2" r="2.6" fill="#0000ff"/>
<circle cx="343.8" cy="918.8" r="2.6" fill="#0000ff"/>
<circle cx="353.1" cy="916.0" r="2.6" fill="#0000ff"/>
<circle cx="348.4" cy="927.0" r="2.6" fill="#0000ff"/>
<circle cx="348.4" cy="941.3" r="2.6" fill="#0000ff"/>
<rect x="377.6" y="819.0" width="4.8" height="4.8" fill="#ff0000"/>
<rect x="377.6" y="832.3" width="4.8" height="4.8" fill="#ff0000"/>
<rect x="377.6" y="838.7" width="4.8" height="4.8" fill="#ff0000"/>
<rect x="377.6" y="876.0" width="4.8" height="4.8" fill="#ff0000"/>
<rect x="372.9" y="883.0" width="4.8" height="4.8" fill="#ff0000"/>
<rect x="382.0" y="880.7" width="4.8" height="4.8" fill="#ff0000"/>
<rect x="377.6" y="901.3" width="4.8" height="4.8" fill="#ff0000"/>
<rect x="377.6" y="919.5" width="4.8" height="4.8" fill="#ff0000"/>
<text transform="translate(352.1,969.7) rotate(-45)" font-size="13" text-anchor="end" font-style="normal">PBS</text>
<text transform="translate(383.7,969.7) rotate(-45)" font-size="13" text-anchor="end" font-style="normal">TAA</text>
<text x="343.4" y="782.9" font-size="14.3" text-anchor="middle" font-weight="normal" font-style="normal" >kidney</text>
<rect x="501.2" y="933.6" width="19.9" height="21.9" fill="#fff" stroke="#000" stroke-width="1.3"/>
<rect x="532.5" y="921.2" width="20.3" height="34.3" fill="#fff" stroke="#000" stroke-width="1.3"/>
<line x1="511.2" y1="923.5" x2="511.2" y2="942.7" stroke="#000" stroke-width="1.3" stroke-linecap="butt"/>
<line x1="506.2" y1="923.5" x2="516.2" y2="923.5" stroke="#000" stroke-width="1.3" stroke-linecap="butt"/>
<line x1="506.2" y1="942.7" x2="516.2" y2="942.7" stroke="#000" stroke-width="1.3" stroke-linecap="butt"/>
<line x1="542.7" y1="907.2" x2="542.7" y2="934.0" stroke="#000" stroke-width="1.3" stroke-linecap="butt"/>
<line x1="537.7" y1="907.2" x2="547.7" y2="907.2" stroke="#000" stroke-width="1.3" stroke-linecap="butt"/>
<line x1="537.7" y1="934.0" x2="547.7" y2="934.0" stroke="#000" stroke-width="1.3" stroke-linecap="butt"/>
<line x1="490.2" y1="808.1" x2="490.2" y2="956.1" stroke="#000" stroke-width="1.3" stroke-linecap="butt"/>
<line x1="489.6" y1="955.5" x2="563.8" y2="955.5" stroke="#000" stroke-width="1.3" stroke-linecap="butt"/>
<line x1="485.7" y1="808.8" x2="490.2" y2="808.8" stroke="#000" stroke-width="1.3" stroke-linecap="butt"/>
<text x="485.2" y="812.8" font-size="11" text-anchor="end" font-weight="normal" font-style="normal" >1.5</text>
<line x1="485.7" y1="857.7" x2="490.2" y2="857.7" stroke="#000" stroke-width="1.3" stroke-linecap="butt"/>
<text x="485.2" y="861.7" font-size="11" text-anchor="end" font-weight="normal" font-style="normal" >1.0</text>
<line x1="485.7" y1="906.6" x2="490.2" y2="906.6" stroke="#000" stroke-width="1.3" stroke-linecap="butt"/>
<text x="485.2" y="910.6" font-size="11" text-anchor="end" font-weight="normal" font-style="normal" >0.5</text>
<line x1="485.7" y1="955.5" x2="490.2" y2="955.5" stroke="#000" stroke-width="1.3" stroke-linecap="butt"/>
<text x="485.2" y="959.5" font-size="11" text-anchor="end" font-weight="normal" font-style="normal" >0.0</text>
<line x1="511.1" y1="955.5" x2="511.1" y2="959.5" stroke="#000" stroke-width="1.3" stroke-linecap="butt"/>
<line x1="542.6" y1="955.5" x2="542.6" y2="959.5" stroke="#000" stroke-width="1.3" stroke-linecap="butt"/>
<polyline points="511.0,902.5 511.0,824.2 542.5,824.2 542.5,829.5" fill="none" stroke="#000" stroke-width="1.20"/>
<text x="526.6" y="818.4" font-size="10.0" text-anchor="middle" font-weight="normal" font-style="normal" letter-spacing="0.1">P = 0.5122</text>
<text transform="translate(463.2,879.8) rotate(-90)" font-size="12.7" text-anchor="middle" font-style="normal">GC/ng of DNA</text>
<circle cx="506.3" cy="912.1" r="2.6" fill="#0000ff"/>
<circle cx="515.5" cy="908.3" r="2.6" fill="#0000ff"/>
<circle cx="506.3" cy="945.2" r="2.6" fill="#0000ff"/>
<circle cx="506.3" cy="951.5" r="2.6" fill="#0000ff"/>
<circle cx="515.5" cy="949.7" r="2.6" fill="#0000ff"/>
<rect x="540.1" y="832.8" width="4.8" height="4.8" fill="#ff0000"/>
<rect x="540.1" y="898.2" width="4.8" height="4.8" fill="#ff0000"/>
<rect x="540.1" y="919.5" width="4.8" height="4.8" fill="#ff0000"/>
<rect x="535.2" y="932.1" width="4.8" height="4.8" fill="#ff0000"/>
<rect x="535.2" y="937.5" width="4.8" height="4.8" fill="#ff0000"/>
<rect x="544.6" y="937.0" width="4.8" height="4.8" fill="#ff0000"/>
<rect x="535.2" y="944.5" width="4.8" height="4.8" fill="#ff0000"/>
<rect x="544.6" y="943.8" width="4.8" height="4.8" fill="#ff0000"/>
<text transform="translate(514.8,969.7) rotate(-45)" font-size="13" text-anchor="end" font-style="normal">PBS</text>
<text transform="translate(546.2,969.7) rotate(-45)" font-size="13" text-anchor="end" font-style="normal">TAA</text>
<text x="506.8" y="783.4" font-size="14.3" text-anchor="middle" font-weight="normal" font-style="normal" >lung</text>
</g>
<line x1="265.0" y1="24.3" x2="265.0" y2="174.8" stroke="#000" stroke-width="1.7" stroke-linecap="butt"/>
<line x1="259.7" y1="25.2" x2="265.0" y2="25.2" stroke="#000" stroke-width="1.7" stroke-linecap="butt"/>
<text x="257.2" y="29.6" font-size="11.6" text-anchor="end" font-weight="normal" font-style="normal" >1.5×10<tspan font-size="7.3" dx="2.0" dy="-4">5</tspan></text>
<line x1="259.7" y1="74.8" x2="265.0" y2="74.8" stroke="#000" stroke-width="1.7" stroke-linecap="butt"/>
<text x="257.2" y="79.2" font-size="11.6" text-anchor="end" font-weight="normal" font-style="normal" >1×10<tspan font-size="7.3" dx="2.0" dy="-4">5</tspan></text>
<line x1="259.7" y1="124.4" x2="265.0" y2="124.4" stroke="#000" stroke-width="1.7" stroke-linecap="butt"/>
<text x="257.2" y="128.8" font-size="11.6" text-anchor="end" font-weight="normal" font-style="normal" >5×10<tspan font-size="7.3" dx="2.0" dy="-4">4</tspan></text>
<line x1="259.7" y1="174.0" x2="265.0" y2="174.0" stroke="#000" stroke-width="1.7" stroke-linecap="butt"/>
<text x="256.4" y="178.4" font-size="11.6" text-anchor="end" font-weight="normal" font-style="normal" >0</text>
<line x1="254.0" y1="174.0" x2="387.0" y2="174.0" stroke="#000" stroke-width="1.7" stroke-linecap="butt"/>
<line x1="396.8" y1="174.0" x2="415.7" y2="174.0" stroke="#000" stroke-width="1.7" stroke-linecap="butt"/>
<line x1="425.4" y1="174.0" x2="503.7" y2="174.0" stroke="#000" stroke-width="1.7" stroke-linecap="butt"/>
<line x1="387.0" y1="170.7" x2="387.0" y2="177.3" stroke="#000" stroke-width="1.7" stroke-linecap="butt"/>
<line x1="396.8" y1="170.7" x2="396.8" y2="177.3" stroke="#000" stroke-width="1.7" stroke-linecap="butt"/>
<line x1="415.7" y1="170.7" x2="415.7" y2="177.3" stroke="#000" stroke-width="1.7" stroke-linecap="butt"/>
<line x1="425.4" y1="170.7" x2="425.4" y2="177.3" stroke="#000" stroke-width="1.7" stroke-linecap="butt"/>
<line x1="265.0" y1="174.0" x2="265.0" y2="179.8" stroke="#000" stroke-width="1.7" stroke-linecap="butt"/>
<line x1="285.3" y1="174.0" x2="285.3" y2="179.8" stroke="#000" stroke-width="1.7" stroke-linecap="butt"/>
<line x1="325.9" y1="174.0" x2="325.9" y2="179.8" stroke="#000" stroke-width="1.7" stroke-linecap="butt"/>
<line x1="406.0" y1="174.0" x2="406.0" y2="179.8" stroke="#000" stroke-width="1.7" stroke-linecap="butt"/>
<line x1="503.7" y1="174.0" x2="503.7" y2="179.8" stroke="#000" stroke-width="1.7" stroke-linecap="butt"/>
<text x="265.0" y="192.4" font-size="12.3" text-anchor="middle" font-weight="normal" font-style="normal" >0</text>
<text x="285.3" y="192.4" font-size="12.3" text-anchor="middle" font-weight="normal" font-style="normal" >1</text>
<text x="325.9" y="192.4" font-size="12.3" text-anchor="middle" font-weight="normal" font-style="normal" >3</text>
<text x="387.0" y="192.4" font-size="12.3" text-anchor="middle" font-weight="normal" font-style="normal" >6</text>
<text x="406.0" y="194.3" font-size="13.7" text-anchor="middle" font-weight="normal" font-style="normal" >24</text>
<text x="503.7" y="194.3" font-size="13.7" text-anchor="middle" font-weight="normal" font-style="normal" >48</text>
<text x="378.9" y="214.3" font-size="15.5" text-anchor="middle" font-weight="normal" font-style="normal" >hours post-injection</text>
<text transform="translate(208.7,99.5) rotate(-90)" font-size="15.5" text-anchor="middle" font-style="normal">GC/ng of DNA</text>
<line x1="265.0" y1="174.0" x2="285.3" y2="73.1" stroke="#000" stroke-width="1.3" stroke-linecap="butt"/>
<line x1="285.3" y1="73.1" x2="325.9" y2="110.6" stroke="#000" stroke-width="1.3" stroke-linecap="butt"/>
<line x1="325.9" y1="110.6" x2="387.0" y2="126.1" stroke="#000" stroke-width="1.3" stroke-linecap="butt"/>
<line x1="396.8" y1="137.7" x2="406.0" y2="148.5" stroke="#000" stroke-width="1.3" stroke-linecap="butt"/>
<line x1="406.0" y1="148.5" x2="415.7" y2="150.7" stroke="#000" stroke-width="1.3" stroke-linecap="butt"/>
<line x1="425.4" y1="152.9" x2="503.7" y2="170.8" stroke="#000" stroke-width="1.3" stroke-linecap="butt"/>
<line x1="265.0" y1="174.0" x2="285.3" y2="111.4" stroke="#000" stroke-width="1.3" stroke-linecap="butt"/>
<line x1="285.3" y1="111.4" x2="325.9" y2="113.0" stroke="#000" stroke-width="1.3" stroke-linecap="butt"/>
<line x1="325.9" y1="113.0" x2="387.0" y2="146.6" stroke="#000" stroke-width="1.3" stroke-linecap="butt"/>
<line x1="396.8" y1="154.3" x2="406.0" y2="161.6" stroke="#000" stroke-width="1.3" stroke-linecap="butt"/>
<line x1="406.0" y1="161.6" x2="415.7" y2="162.5" stroke="#000" stroke-width="1.3" stroke-linecap="butt"/>
<line x1="425.4" y1="163.4" x2="503.7" y2="170.8" stroke="#000" stroke-width="1.3" stroke-linecap="butt"/>
<line x1="285.3" y1="49.4" x2="285.3" y2="96.7" stroke="#000" stroke-width="1.3" stroke-linecap="butt"/>
<line x1="281.6" y1="49.4" x2="289.1" y2="49.4" stroke="#000" stroke-width="1.3" stroke-linecap="butt"/>
<line x1="281.6" y1="96.7" x2="289.1" y2="96.7" stroke="#000" stroke-width="1.3" stroke-linecap="butt"/>
<line x1="325.9" y1="103.3" x2="325.9" y2="120.9" stroke="#000" stroke-width="1.3" stroke-linecap="butt"/>
<line x1="322.1" y1="103.3" x2="329.6" y2="103.3" stroke="#000" stroke-width="1.3" stroke-linecap="butt"/>
<line x1="322.1" y1="120.9" x2="329.6" y2="120.9" stroke="#000" stroke-width="1.3" stroke-linecap="butt"/>
<line x1="387.0" y1="116.7" x2="387.0" y2="135.3" stroke="#000" stroke-width="1.3" stroke-linecap="butt"/>
<line x1="383.2" y1="116.7" x2="390.8" y2="116.7" stroke="#000" stroke-width="1.3" stroke-linecap="butt"/>
<line x1="383.2" y1="135.3" x2="390.8" y2="135.3" stroke="#000" stroke-width="1.3" stroke-linecap="butt"/>
<line x1="406.0" y1="142.7" x2="406.0" y2="154.0" stroke="#000" stroke-width="1.3" stroke-linecap="butt"/>
<line x1="402.2" y1="142.7" x2="409.8" y2="142.7" stroke="#000" stroke-width="1.3" stroke-linecap="butt"/>
<line x1="402.2" y1="154.0" x2="409.8" y2="154.0" stroke="#000" stroke-width="1.3" stroke-linecap="butt"/>
<line x1="285.3" y1="102.5" x2="285.3" y2="119.8" stroke="#000" stroke-width="1.3" stroke-linecap="butt"/>
<line x1="281.6" y1="102.5" x2="289.1" y2="102.5" stroke="#000" stroke-width="1.3" stroke-linecap="butt"/>
<line x1="281.6" y1="119.8" x2="289.1" y2="119.8" stroke="#000" stroke-width="1.3" stroke-linecap="butt"/>
<rect x="261.4" y="170.4" width="7.1" height="7.1" fill="#ff0000"/>
<rect x="281.8" y="69.5" width="7.1" height="7.1" fill="#ff0000"/>
<rect x="322.3" y="107.0" width="7.1" height="7.1" fill="#ff0000"/>
<rect x="383.4" y="122.5" width="7.1" height="7.1" fill="#ff0000"/>
<rect x="402.4" y="144.9" width="7.1" height="7.1" fill="#ff0000"/>
<rect x="500.1" y="167.2" width="7.1" height="7.1" fill="#ff0000"/>
<circle cx="265.0" cy="174.0" r="3.2" fill="#0000ff"/>
<circle cx="285.3" cy="111.4" r="3.2" fill="#0000ff"/>
<circle cx="325.9" cy="113.0" r="3.2" fill="#0000ff"/>
<circle cx="387.0" cy="146.6" r="3.2" fill="#0000ff"/>
<circle cx="406.0" cy="161.6" r="3.2" fill="#0000ff"/>
<circle cx="503.7" cy="170.8" r="3.2" fill="#0000ff"/>
<line x1="403.9" y1="28.1" x2="416.5" y2="28.1" stroke="#000" stroke-width="1.3" stroke-linecap="butt"/>
<circle cx="410.2" cy="28.1" r="3.2" fill="#0000ff"/>
<line x1="403.9" y1="53.9" x2="416.5" y2="53.9" stroke="#000" stroke-width="1.3" stroke-linecap="butt"/>
<rect x="406.6" y="50.4" width="7.1" height="7.1" fill="#ff0000"/>
<text x="424.9" y="34.2" font-size="15.4" text-anchor="start" font-weight="normal" font-style="italic" >Atp7b<tspan font-size="11" dx="1" dy="-6.5">+/-</tspan></text>
<text x="424.9" y="60.4" font-size="15.4" text-anchor="start" font-weight="normal" font-style="italic" >Atp7b<tspan font-size="11" dx="1" dy="-6.5">-/-</tspan></text>
<line x1="136.2" y1="533.4" x2="136.2" y2="680.1" stroke="#000" stroke-width="1.7" stroke-linecap="butt"/>
<line x1="130.2" y1="534.2" x2="136.2" y2="534.2" stroke="#000" stroke-width="1.7" stroke-linecap="butt"/>
<text x="129.8" y="538.6" font-size="12.2" text-anchor="end" font-weight="normal" font-style="normal" >3×10<tspan font-size="7.2" dx="2.0" dy="-3.8">5</tspan></text>
<line x1="130.2" y1="582.5" x2="136.2" y2="582.5" stroke="#000" stroke-width="1.7" stroke-linecap="butt"/>
<text x="129.8" y="586.9" font-size="12.2" text-anchor="end" font-weight="normal" font-style="normal" >2×10<tspan font-size="7.2" dx="2.0" dy="-3.8">5</tspan></text>
<line x1="130.2" y1="630.9" x2="136.2" y2="630.9" stroke="#000" stroke-width="1.7" stroke-linecap="butt"/>
<text x="129.8" y="635.3" font-size="12.2" text-anchor="end" font-weight="normal" font-style="normal" >1×10<tspan font-size="7.2" dx="2.0" dy="-3.8">5</tspan></text>
<line x1="130.2" y1="679.2" x2="136.2" y2="679.2" stroke="#000" stroke-width="1.7" stroke-linecap="butt"/>
<text x="128.6" y="683.6" font-size="12.2" text-anchor="end" font-weight="normal" font-style="normal" >0</text>
<line x1="135.3" y1="679.2" x2="311.5" y2="679.2" stroke="#000" stroke-width="1.7" stroke-linecap="butt"/>
<line x1="320.1" y1="679.2" x2="378.4" y2="679.2" stroke="#000" stroke-width="1.7" stroke-linecap="butt"/>
<line x1="311.5" y1="675.7" x2="311.5" y2="682.7" stroke="#000" stroke-width="1.7" stroke-linecap="butt"/>
<line x1="320.1" y1="675.7" x2="320.1" y2="682.7" stroke="#000" stroke-width="1.7" stroke-linecap="butt"/>
<line x1="136.2" y1="679.2" x2="136.2" y2="684.0" stroke="#000" stroke-width="1.7" stroke-linecap="butt"/>
<line x1="223.7" y1="679.2" x2="223.7" y2="684.0" stroke="#000" stroke-width="1.7" stroke-linecap="butt"/>
<line x1="378.4" y1="679.2" x2="378.4" y2="684.0" stroke="#000" stroke-width="1.7" stroke-linecap="butt"/>
<text x="136.2" y="696.7" font-size="12" text-anchor="middle" font-weight="normal" font-style="normal" >0</text>
<text x="223.7" y="696.7" font-size="12" text-anchor="middle" font-weight="normal" font-style="normal" >3</text>
<text x="311.5" y="696.7" font-size="12" text-anchor="middle" font-weight="normal" font-style="normal" >6</text>
<text x="378.4" y="699.5" font-size="13.4" text-anchor="middle" font-weight="normal" font-style="normal" >24</text>
<text x="257.1" y="724.6" font-size="15" text-anchor="middle" font-weight="normal" font-style="normal" >hours post-injection</text>
<text transform="translate(90.7,607.2) rotate(-90)" font-size="15.2" text-anchor="middle" font-style="normal">GC/ng of DNA</text>
<line x1="136.2" y1="679.2" x2="165.6" y2="582.8" stroke="#000" stroke-width="1.3" stroke-linecap="butt"/>
<line x1="165.6" y1="582.8" x2="223.7" y2="606.2" stroke="#000" stroke-width="1.3" stroke-linecap="butt"/>
<line x1="223.7" y1="606.2" x2="311.5" y2="575.7" stroke="#000" stroke-width="1.3" stroke-linecap="butt"/>
<line x1="320.1" y1="587.9" x2="378.4" y2="670.3" stroke="#000" stroke-width="1.3" stroke-linecap="butt"/>
<line x1="136.2" y1="679.2" x2="165.6" y2="636.9" stroke="#000" stroke-width="1.3" stroke-linecap="butt"/>
<line x1="165.6" y1="636.9" x2="223.7" y2="665.5" stroke="#000" stroke-width="1.3" stroke-linecap="butt"/>
<line x1="223.7" y1="665.5" x2="311.5" y2="668.2" stroke="#000" stroke-width="1.3" stroke-linecap="butt"/>
<line x1="320.1" y1="669.3" x2="378.4" y2="676.6" stroke="#000" stroke-width="1.3" stroke-linecap="butt"/>
<line x1="165.6" y1="561.0" x2="165.6" y2="604.1" stroke="#000" stroke-width="1.3" stroke-linecap="butt"/>
<line x1="161.8" y1="561.0" x2="169.3" y2="561.0" stroke="#000" stroke-width="1.3" stroke-linecap="butt"/>
<line x1="161.8" y1="604.1" x2="169.3" y2="604.1" stroke="#000" stroke-width="1.3" stroke-linecap="butt"/>
<line x1="223.7" y1="594.6" x2="223.7" y2="617.2" stroke="#000" stroke-width="1.3" stroke-linecap="butt"/>
<line x1="219.9" y1="594.6" x2="227.4" y2="594.6" stroke="#000" stroke-width="1.3" stroke-linecap="butt"/>
<line x1="219.9" y1="617.2" x2="227.4" y2="617.2" stroke="#000" stroke-width="1.3" stroke-linecap="butt"/>
<line x1="311.5" y1="548.6" x2="311.5" y2="603.0" stroke="#000" stroke-width="1.3" stroke-linecap="butt"/>
<line x1="307.8" y1="548.6" x2="315.2" y2="548.6" stroke="#000" stroke-width="1.3" stroke-linecap="butt"/>
<line x1="307.8" y1="603.0" x2="315.2" y2="603.0" stroke="#000" stroke-width="1.3" stroke-linecap="butt"/>
<line x1="165.6" y1="625.6" x2="165.6" y2="647.2" stroke="#000" stroke-width="1.3" stroke-linecap="butt"/>
<line x1="161.8" y1="625.6" x2="169.3" y2="625.6" stroke="#000" stroke-width="1.3" stroke-linecap="butt"/>
<line x1="161.8" y1="647.2" x2="169.3" y2="647.2" stroke="#000" stroke-width="1.3" stroke-linecap="butt"/>
<line x1="223.7" y1="659.8" x2="223.7" y2="670.8" stroke="#000" stroke-width="1.3" stroke-linecap="butt"/>
<line x1="219.9" y1="659.8" x2="227.4" y2="659.8" stroke="#000" stroke-width="1.3" stroke-linecap="butt"/>
<line x1="219.9" y1="670.8" x2="227.4" y2="670.8" stroke="#000" stroke-width="1.3" stroke-linecap="butt"/>
<rect x="132.6" y="675.7" width="7.1" height="7.1" fill="#ff0000"/>
<rect x="162.0" y="579.2" width="7.1" height="7.1" fill="#ff0000"/>
<rect x="220.1" y="602.7" width="7.1" height="7.1" fill="#ff0000"/>
<rect x="307.9" y="572.2" width="7.1" height="7.1" fill="#ff0000"/>
<rect x="374.8" y="666.8" width="7.1" height="7.1" fill="#ff0000"/>
<circle cx="136.2" cy="679.2" r="3.2" fill="#0000ff"/>
<circle cx="165.6" cy="636.9" r="3.2" fill="#0000ff"/>
<circle cx="223.7" cy="665.5" r="3.2" fill="#0000ff"/>
<circle cx="311.5" cy="668.2" r="3.2" fill="#0000ff"/>
<circle cx="378.4" cy="676.6" r="3.2" fill="#0000ff"/>
<line x1="352.2" y1="535.7" x2="364.5" y2="535.7" stroke="#000" stroke-width="1.3" stroke-linecap="butt"/>
<circle cx="358.2" cy="535.7" r="3.2" fill="#0000ff"/>
<line x1="352.2" y1="561.2" x2="364.5" y2="561.2" stroke="#000" stroke-width="1.3" stroke-linecap="butt"/>
<rect x="354.6" y="557.7" width="7.1" height="7.1" fill="#ff0000"/>
<text x="372.4" y="540.7" font-size="14.8" text-anchor="start" font-weight="normal" font-style="normal" >PBS</text>
<text x="372.4" y="566.5" font-size="14.8" text-anchor="start" font-weight="normal" font-style="normal" >TAA</text>
</svg>
</body></html>
